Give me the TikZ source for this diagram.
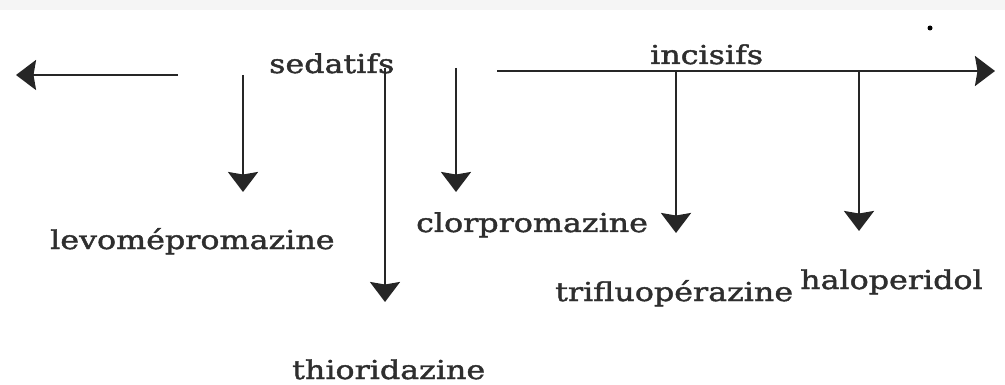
\documentclass[tikz,border=0pt]{standalone}
\usepackage{fontspec}
\setmainfont[FakeStretch=1.22,FakeBold=1.6]{DejaVu Serif}
\usetikzlibrary{arrows.meta}
\begin{document}
\begin{tikzpicture}[x=1pt,y=-1pt,
  lbl/.style={inner sep=0pt,anchor=base west,font=\fontsize{26}{30}\selectfont,text=black!82},
  arr/.style={line width=2.5pt,draw=black!85,-{Stealth[width=30pt,length=20pt,inset=2.5pt]}}]
\useasboundingbox (0,0) rectangle (1005,385);
\fill[black!4] (0,0) rectangle (1005,10);
% labels
\node[lbl] (sed) at (269,73) {sedatifs};
\node[lbl] (inc) at (650,64) {incisifs};
\node[lbl] (levo) at (50,249) {levomépromazine};
\node[lbl] (clor) at (416,232) {clorpromazine};
\node[lbl] (trif) at (555,301) {trifluopérazine};
\node[lbl] (halo) at (800,289) {haloperidol};
\node[lbl] (thio) at (292,379) {thioridazine};
% coordinates
\coordinate (lA) at (178,75);
\coordinate (lB) at (16,75);
\coordinate (a1s) at (243,75);
\coordinate (a1e) at (243,192);
\coordinate (a2s) at (385,68);
\coordinate (a2e) at (385,302);
\coordinate (a3s) at (456,68);
\coordinate (a3e) at (456,192);
\coordinate (hA) at (497,71);
\coordinate (hB) at (995,71);
\coordinate (b1s) at (676,71);
\coordinate (b1e) at (676,233);
\coordinate (b2s) at (859,71);
\coordinate (b2e) at (859,231);
% connectors
\draw[arr] (lA) -- (lB);
\draw[arr] (a1s) -- (a1e);
\draw[arr] (a2s) -- (a2e);
\draw[arr] (a3s) -- (a3e);
\draw[arr] (hA) -- (hB);
\draw[arr] (b1s) -- (b1e);
\draw[arr] (b2s) -- (b2e);
\fill[black] (930,28) circle (2.5pt);
\end{tikzpicture}
\end{document}
